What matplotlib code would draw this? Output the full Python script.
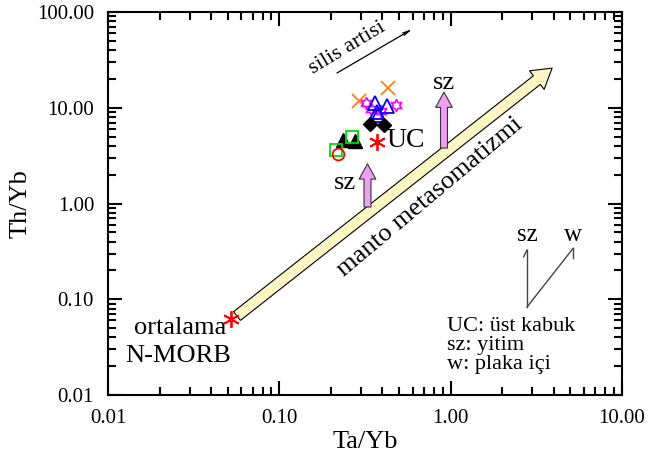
import matplotlib
matplotlib.use("Agg")
import matplotlib.pyplot as plt
from matplotlib.patches import FancyArrowPatch
from matplotlib.ticker import FixedLocator, LogLocator, NullFormatter

plt.rcParams['font.family'] = ['Liberation Serif', 'DejaVu Serif']

# sample groups (Ta/Yb, Th/Yb)
cross_x = [0.292, 0.432]
cross_y = [11.8, 16.1]
star_x = [0.321, 0.343, 0.393, 0.480]
star_y = [11.2, 9.7, 9.25, 10.7]
otri_x = [0.362, 0.426, 0.371, 0.376]
otri_y = [11.2, 10.5, 9.0, 8.4]
diam_x = [0.340, 0.410]
diam_y = [6.8, 6.6]
ftri_x = [0.236, 0.275]
ftri_y = [4.6, 4.5]
sq_x = [0.267, 0.214]
sq_y = [4.95, 3.6]
circ_x = [0.219]
circ_y = [3.3]
uc_x, uc_y = 0.371, 4.35
nmorb_x, nmorb_y = 0.052, 0.062

# trend arrows
mantle_arrow = [(0.0566, 0.0668), (3.91, 26.0)]
sz_arrow1 = [(0.327, 0.92), (0.327, 2.6)]
sz_arrow2 = [(0.914, 3.8), (0.914, 14.6)]
silica_arrow = [(0.217, 23.1), (0.596, 66.4)]

# vector key
key_origin = (2.79, 0.083)
key_sz = (2.79, 0.327)
key_w = (5.18, 0.34)

ticks = [0.01, 0.1, 1, 10, 100]

fig = plt.figure(figsize=(6.49, 4.63), dpi=100)
ax = fig.add_axes([0.1664, 0.1469, 0.792, 0.827])
ax.set_xscale('log')
ax.set_yscale('log')

ax.plot(cross_x, cross_y, 'x', color='#ff7f0e', ms=10, mew=1.3, ls='none')
ax.plot(star_x, star_y, marker=(6, 1, 0), color='magenta', mfc='none', ms=9, mew=1.2, ls='none')
ax.plot(otri_x, otri_y, '^', color='blue', mfc='none', ms=10, mew=1.3, ls='none')
ax.plot(diam_x, diam_y, 'D', color='black', ms=7.5, ls='none')
ax.plot(ftri_x, ftri_y, '^', color='black', ms=9.5, ls='none')
ax.plot(sq_x, sq_y, 's', color='#00dd00', mfc='none', ms=9, mew=1.3, ls='none')
ax.plot(circ_x, circ_y, 'o', color='red', mfc='none', ms=8.5, mew=1.3, ls='none')
ax.plot([uc_x], [uc_y], marker=(6, 2, 0), color='red', ms=12, mew=1.3, ls='none')
ax.plot([nmorb_x], [nmorb_y], marker=(6, 2, 0), color='red', ms=12, mew=1.3, ls='none')

big = FancyArrowPatch(mantle_arrow[0], mantle_arrow[1],
                      arrowstyle='simple,head_width=17,head_length=14,tail_width=8',
                      mutation_scale=1, fc='#fbf6c4', ec='black', lw=0.8,
                      shrinkA=0, shrinkB=0)
ax.add_patch(big)
for a in (sz_arrow1, sz_arrow2):
    p = FancyArrowPatch(a[0], a[1],
                        arrowstyle='simple,head_width=12,head_length=11,tail_width=5',
                        mutation_scale=1, fc='#f0a0f0', ec='#333333', lw=0.8,
                        shrinkA=0, shrinkB=0)
    ax.add_patch(p)
ax.annotate('', xy=silica_arrow[1], xytext=silica_arrow[0],
            arrowprops=dict(arrowstyle='->,head_width=0.1,head_length=0.5', color='black',
                            lw=0.9, shrinkA=0, shrinkB=0))

ax.text(0.25, 42, 'silis artisi', fontsize=16, rotation=31, ha='center', va='center')
ax.text(0.76, 1.17, 'manto metasomatizmi', fontsize=19, rotation=40, ha='center', va='center')
ax.text(0.242, 1.62, 'sz', fontsize=19, ha='center', va='center')
ax.text(0.91, 18.1, 'sz', fontsize=19, ha='center', va='center')
ax.text(0.545, 4.55, 'UC', fontsize=20, ha='center', va='center')
ax.text(0.0263, 0.0505, 'ortalama', fontsize=19, ha='center', va='center')
ax.text(0.0256, 0.0258, 'N-MORB', fontsize=19, ha='center', va='center')

# vector key
ax.plot([key_origin[0], key_sz[0]], [key_origin[1], key_sz[1]], color='#444444', lw=1)
ax.plot([key_origin[0], key_w[0]], [key_origin[1], key_w[1]], color='#444444', lw=1)
ax.plot([key_sz[0], key_sz[0] * 0.955], [key_sz[1], key_sz[1] * 0.85], color='#444444', lw=1)
ax.plot([key_w[0], key_w[0]], [key_w[1], key_w[1] * 0.79], color='#444444', lw=1)
ax.text(key_sz[0], 0.47, 'sz', fontsize=18, ha='center', va='center')
ax.text(key_w[0], 0.47, 'w', fontsize=18, ha='center', va='center')
ax.text(0.66, 0.178, 'UC: üst kabuk', fontsize=16, transform=ax.transAxes, va='center')
ax.text(0.66, 0.128, 'sz: yitim', fontsize=16, transform=ax.transAxes, va='center')
ax.text(0.66, 0.080, 'w: plaka içi', fontsize=16, transform=ax.transAxes, va='center')

for axis in (ax.xaxis, ax.yaxis):
    axis.set_major_locator(FixedLocator(ticks))
    axis.set_minor_locator(LogLocator(base=10, subs=range(2, 10)))
    axis.set_minor_formatter(NullFormatter())
ax.set_xticklabels(['%.2f' % t for t in ticks])
ax.set_yticklabels(['%.2f' % t for t in ticks])
ax.set_xlim(0.01, 10)
ax.set_ylim(0.01, 100)
ax.tick_params(which='both', direction='in', top=True, right=True, labelsize=15, width=1.5)
ax.tick_params(which='major', length=10, pad=10)
ax.tick_params(which='minor', length=6)
for s in ax.spines.values():
    s.set_linewidth(1.5)

ax.set_xlabel('Ta/Yb', fontsize=19, labelpad=2)
ax.set_ylabel('Th/Yb', fontsize=19, labelpad=4)

fig.savefig('out.png', dpi=100)
